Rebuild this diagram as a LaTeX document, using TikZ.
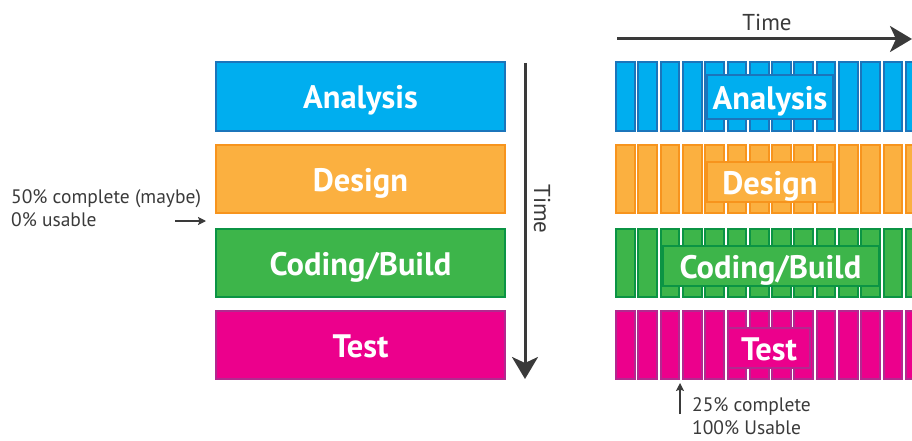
\documentclass[tikz,border=0pt]{standalone}
\usepackage{fontspec}
\setmainfont{PT Sans}
\usetikzlibrary{arrows.meta}

% phase colours
\definecolor{anaFill}{HTML}{00AEEF}
\definecolor{anaLine}{HTML}{1B75BB}
\definecolor{desFill}{HTML}{FBB040}
\definecolor{desLine}{HTML}{F7941D}
\definecolor{codFill}{HTML}{3DB54A}
\definecolor{codLine}{HTML}{0B9444}
\definecolor{tstFill}{HTML}{EC008C}
\definecolor{tstLine}{HTML}{B2298F}
\definecolor{ink}{HTML}{3A3A3A}

\tikzset{
  phasebox/.style n args={2}{draw=#2, fill=#1, line width=2pt,
    text=white, font=\fontsize{32.5}{36}\selectfont\bfseries,
    text height=25pt, text depth=0pt,
    inner sep=0pt, outer sep=0pt},
  stripbox/.style n args={2}{draw=#2, fill=#1, line width=2pt},
  labelbox/.style n args={2}{draw=#2, fill=#1, line width=2pt,
    text=white, font=\fontsize{32.5}{36}\selectfont\bfseries,
    text height=25pt, text depth=0pt,
    inner sep=0pt, outer sep=0pt},
  notetext/.style={text=ink, font=\fontsize{19.5}{23.5}\selectfont,
    align=left, inner sep=0pt},
  timetext/.style={text=ink, font=\fontsize{23}{26}\selectfont, inner sep=0pt},
  timearrow/.style={draw=ink, line width=3pt,
    -{Stealth[length=22pt, width=26pt, inset=6pt]}},
  notearrow/.style={draw=ink, line width=1.3pt,
    -{Stealth[length=8pt, width=8pt, inset=1.5pt]}},
}

\begin{document}
\begin{tikzpicture}[x=1pt, y=-1pt]
\useasboundingbox (0,0) rectangle (912,441);

% ---------- sequential phases (left) ----------
\node[phasebox={anaFill}{anaLine}, minimum width=289pt, minimum height=68pt]
  (anaL) at (360.5,96.5) {Analysis};
\node[phasebox={desFill}{desLine}, minimum width=289pt, minimum height=68pt]
  (desL) at (360.5,179) {Design};
\node[phasebox={codFill}{codLine}, minimum width=289pt, minimum height=68pt]
  (codL) at (360.5,262.5) {Coding/Build};
\node[phasebox={tstFill}{tstLine}, minimum width=289pt, minimum height=68pt]
  (tstL) at (360.5,345) {Test};

% vertical time axis
\coordinate (vtStart) at (525,63);
\coordinate (vtEnd) at (525,379);
\draw[timearrow] (vtStart) -- (vtEnd);
\node[timetext, rotate=-90] (vtLabel) at (542,209) {Time};

% left note
\node[notetext, anchor=north west] (noteL) at (11,189)
  {50\% complete (maybe)\\0\% usable};
\coordinate (nlStart) at (175,221);
\coordinate (nlEnd) at (206,221);
\draw[notearrow] (nlStart) -- (nlEnd);

% ---------- iterative slices (right) ----------
\begin{scope}
\clip (600,0) rectangle (912,441);
\foreach \top/\bot/\fc/\lc in {62/131/anaFill/anaLine, 145/213/desFill/desLine,
    229/297/codFill/codLine, 311/379/tstFill/tstLine}{
  \foreach \i in {0,...,13}{
    \draw[stripbox={\fc}{\lc}] ({616+22.3*\i},\top) rectangle ({634.7+22.3*\i},\bot);
  }
}
\end{scope}

% label boxes laid over the slices
\node[labelbox={anaFill}{anaLine}, minimum width=126pt, minimum height=44pt]
  (anaR) at (770,97.5) {Analysis};
\node[labelbox={desFill}{desLine}, minimum width=126pt, minimum height=40pt]
  (desR) at (770,182) {Design};
\node[labelbox={codFill}{codLine}, minimum width=216pt, minimum height=40pt]
  (codR) at (770.5,266) {Coding/Build};
\node[labelbox={tstFill}{tstLine}, minimum width=82pt, minimum height=40pt]
  (tstR) at (769,347.5) {Test};

% horizontal time axis
\coordinate (htStart) at (617,39);
\coordinate (htEnd) at (912,39);
\draw[timearrow] (htStart) -- (htEnd);
\node[timetext] (htLabel) at (767,22) {Time};

% bottom note
\coordinate (nbStart) at (680,414);
\coordinate (nbEnd) at (680,383);
\draw[notearrow] (nbStart) -- (nbEnd);
\node[notetext, anchor=north west] (noteB) at (692,397)
  {25\% complete\\100\% Usable};
\end{tikzpicture}
\end{document}
